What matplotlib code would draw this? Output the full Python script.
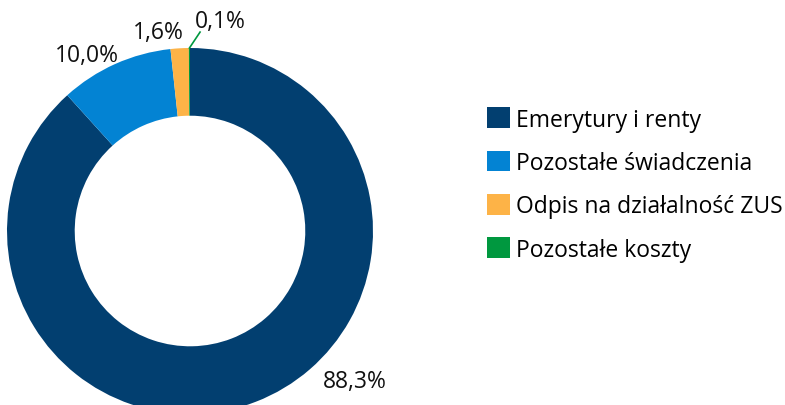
import numpy as np
import matplotlib
matplotlib.use("Agg")
import matplotlib.pyplot as plt

categories = ["Emerytury i renty", "Pozostałe świadczenia", "Odpis na działalność ZUS", "Pozostałe koszty"]
values = [88.3, 10.0, 1.6, 0.1]
value_labels = ["88,3%", "10,0%", "1,6%", "0,1%"]
colors = ["#023F70", "#0383D3", "#FDB347", "#00983F"]

plt.rcParams['font.family'] = ['Open Sans', 'DejaVu Sans']

W, H = 785, 406
fig = plt.figure(figsize=(W / 100, H / 100), dpi=100)
cx, cy, R = 190, 232, 183
ax = fig.add_axes([(cx - R) / W, (H - cy - R) / H, 2 * R / W, 2 * R / H])

wedges, _ = ax.pie(values, colors=colors, startangle=90, counterclock=False,
                   radius=1.0, wedgeprops=dict(width=0.37, linewidth=0),
                   normalize=True)
ax.set_xlim(-1, 1)
ax.set_ylim(-1, 1)
ax.axis("off")
for w in wedges:
    w.set_clip_on(False)

label_pos = [(0.90, -0.82), (-0.563, 0.962), (-0.175, 1.087), (0.164, 1.148)]
for (x, y), t in zip(label_pos, value_labels):
    ax.text(x, y, t, ha="center", va="center", fontsize=16.5, color="#111111", clip_on=False)

# leader line for the smallest slice
w = wedges[3]
mid = np.deg2rad((w.theta1 + w.theta2) / 2)
ax.plot([np.cos(mid), 0.055], [np.sin(mid), 1.087], color=colors[3], lw=1.2, clip_on=False)

leg = fig.legend(wedges, categories, loc="center left", bbox_to_anchor=(487 / W, 1 - 185.5 / H),
                 frameon=False, fontsize=16.5, handlelength=1.0, handleheight=1.0,
                 handletextpad=0.26, labelspacing=0.84, borderaxespad=0, borderpad=0)

fig.savefig("out.png", dpi=100)
